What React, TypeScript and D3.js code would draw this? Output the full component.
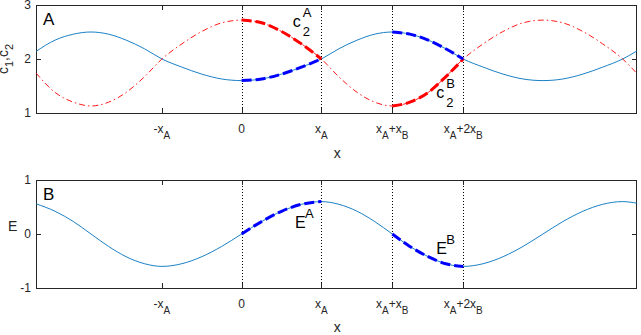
import React from "react";
import * as d3 from "d3";

// positions in units of x_A (x_A = 1, x_B = 0.89)
const xs = [
  -2.58, -2.34, -2.11, -1.89, -1.67, -1.45, -1.22, -1.0, -0.75, -0.5, -0.25, 0,
  0.25, 0.5, 0.75, 1.0, 1.22, 1.45, 1.67, 1.89, 2.11, 2.34, 2.56, 2.78, 3.03,
  3.28, 3.53, 3.78, 4.03, 4.28, 4.53, 4.78, 4.96,
];
const c1 = [
  2.14, 2.35, 2.46, 2.5, 2.46, 2.35, 2.19, 2.0, 1.85, 1.72, 1.63, 1.6, 1.63,
  1.72, 1.85, 2.0, 2.19, 2.35, 2.46, 2.5, 2.46, 2.35, 2.19, 2.0, 1.85, 1.72,
  1.63, 1.6, 1.63, 1.72, 1.85, 2.0, 2.15,
];
const c2 = [
  1.74, 1.38, 1.2, 1.13, 1.2, 1.38, 1.67, 2.0, 2.28, 2.51, 2.67, 2.72, 2.67,
  2.51, 2.28, 2.0, 1.67, 1.38, 1.2, 1.13, 1.2, 1.38, 1.67, 2.0, 2.28, 2.51,
  2.67, 2.72, 2.67, 2.51, 2.28, 2.0, 1.73,
];
const eVals = [
  0.56, 0.42, 0.23, 0.0, -0.23, -0.42, -0.55, -0.6, -0.55, -0.42, -0.23, 0.0,
  0.23, 0.42, 0.55, 0.6, 0.55, 0.42, 0.23, 0.0, -0.23, -0.42, -0.55, -0.6,
  -0.55, -0.42, -0.23, 0.0, 0.23, 0.42, 0.55, 0.6, 0.57,
];

type Part = { t: string; sub?: boolean };

const xTickVals = [-1, 0, 1, 1.89, 2.78];
const xTickLabels: Part[][] = [
  [{ t: "-x" }, { t: "A", sub: true }],
  [{ t: "0" }],
  [{ t: "x" }, { t: "A", sub: true }],
  [{ t: "x" }, { t: "A", sub: true }, { t: "+x" }, { t: "B", sub: true }],
  [{ t: "x" }, { t: "A", sub: true }, { t: "+2x" }, { t: "B", sub: true }],
];
const dottedAt = [0, 1, 1.89, 2.78];
const highlightRanges = [
  [0, 1],
  [1.89, 2.78],
];
const yTicksA = [1, 2, 3];
const yTicksB = [-1, 0, 1];

const W = 641;
const H = 335;
const AX = "#262626";
const FONT = "'Liberation Sans', Arial, Helvetica, sans-serif";
const BLUE_THIN = "#0072BD";

const x = d3.scaleLinear().domain([-2.58, 4.96]).range([36, 637]);
const yA = d3.scaleLinear().domain([1, 3]).range([113, 5]);
const yB = d3.scaleLinear().domain([-1, 1]).range([288, 180]);

function Rich({ x, y, parts, size, subSize, shift, anchor, fill, transform }: any) {
  let down = false;
  return (
    <text x={x} y={y} textAnchor={anchor} fontSize={size} fill={fill} transform={transform}>
      {parts.map((p: Part, i: number) => {
        let dy = 0;
        if (p.sub && !down) {
          dy = shift;
          down = true;
        } else if (!p.sub && down) {
          dy = -shift;
          down = false;
        }
        return (
          <tspan key={i} dy={dy} fontSize={p.sub ? subSize : size}>
            {p.t}
          </tspan>
        );
      })}
    </text>
  );
}

function linePath(ys: number[], yScale: any, range?: number[]) {
  const pts = xs
    .map((v, i) => [v, ys[i]] as [number, number])
    .filter((p) => !range || (p[0] >= range[0] - 1e-9 && p[0] <= range[1] + 1e-9));
  return d3
    .line<[number, number]>()
    .x((d) => x(d[0]))
    .y((d) => yScale(d[1]))
    .curve(d3.curveMonotoneX)(pts) as string;
}

function Frame({ yScale, yTicks }: any) {
  const [r0, r1] = yScale.range();
  const top = r1;
  const bottom = r0;
  const left = x.range()[0];
  const right = x.range()[1];
  return (
    <g>
      {dottedAt.map((v) => (
        <line
          key={"d" + v}
          x1={Math.round(x(v)) + 0.5}
          x2={Math.round(x(v)) + 0.5}
          y1={top}
          y2={bottom}
          stroke="#000"
          strokeWidth={1}
          strokeDasharray="1,2"
        />
      ))}
      {xTickVals.map((v, i) => (
        <g key={"xt" + i}>
          <line x1={Math.round(x(v)) + 0.5} x2={Math.round(x(v)) + 0.5} y1={bottom} y2={bottom - 5} stroke={AX} />
          <line x1={Math.round(x(v)) + 0.5} x2={Math.round(x(v)) + 0.5} y1={top} y2={top + 5} stroke={AX} />
          <Rich
            x={x(v)}
            y={bottom + 20}
            parts={xTickLabels[i]}
            size={12}
            subSize={10}
            shift={6}
            anchor="middle"
            fill={AX}
          />
        </g>
      ))}
      {yTicks.map((v: number) => (
        <g key={"yt" + v}>
          <line x1={left} x2={left + 5} y1={Math.round(yScale(v)) + 0.5} y2={Math.round(yScale(v)) + 0.5} stroke={AX} />
          <line x1={right} x2={right - 5} y1={Math.round(yScale(v)) + 0.5} y2={Math.round(yScale(v)) + 0.5} stroke={AX} />
          <text x={31} y={yScale(v) + 4} textAnchor="end" fontSize={12} fill={AX}>
            {v}
          </text>
        </g>
      ))}
      <rect
        x={left + 0.5}
        y={top + 0.5}
        width={right - left - 1}
        height={bottom - top}
        fill="none"
        stroke={AX}
        strokeWidth={1}
      />
    </g>
  );
}

function Script({ px, py, main, sup, sub }: any) {
  return (
    <g fill="#000">
      <text x={px} y={py} fontSize={16}>
        {main}
      </text>
      {sup && (
        <text x={px + 10} y={py - 10} fontSize={13}>
          {sup}
        </text>
      )}
      {sub && (
        <text x={px + 10} y={py + 9} fontSize={13}>
          {sub}
        </text>
      )}
    </g>
  );
}

export default function App() {
  return (
    <svg
      width={W}
      height={H}
      style={{ position: "absolute", left: 0, top: 0, background: "#fff" }}
      fontFamily={FONT}
    >
      {/* panel A */}
      <Frame yScale={yA} yTicks={yTicksA} />
      <path d={linePath(c1, yA)} fill="none" stroke={BLUE_THIN} strokeWidth={0.9} />
      <path d={linePath(c2, yA)} fill="none" stroke="#ff0000" strokeWidth={0.9} strokeDasharray="6,3,1.5,3" />
      {highlightRanges.map((r, i) => (
        <g key={"ha" + i}>
          <path d={linePath(c2, yA, r)} fill="none" stroke="#ff0000" strokeWidth={3} strokeDasharray="10,4" />
          <path d={linePath(c1, yA, r)} fill="none" stroke="#0000ff" strokeWidth={3} strokeDasharray="10,4" />
        </g>
      ))}
      <text x={43} y={25} fontSize={17} fill="#000">
        A
      </text>
      <Script px={x(0.64)} py={27} main="c" sup="A" sub="2" />
      <Script px={x(2.44)} py={98} main="c" sup="B" sub="2" />
      <Rich
        x={8}
        y={59}
        parts={[{ t: "c" }, { t: "1", sub: true }, { t: ",c" }, { t: "2", sub: true }]}
        size={14}
        subSize={11}
        shift={5}
        anchor="middle"
        fill={AX}
        transform="rotate(-90 8 59)"
      />
      <text x={x(1.2)} y={158} textAnchor="middle" fontSize={14} fill={AX}>
        x
      </text>

      {/* panel B */}
      <Frame yScale={yB} yTicks={yTicksB} />
      <path d={linePath(eVals, yB)} fill="none" stroke={BLUE_THIN} strokeWidth={0.9} />
      {highlightRanges.map((r, i) => (
        <path key={"hb" + i} d={linePath(eVals, yB, r)} fill="none" stroke="#0000ff" strokeWidth={3} strokeDasharray="10,4" />
      ))}
      <text x={43} y={200} fontSize={17} fill="#000">
        B
      </text>
      <Script px={x(0.67)} py={228} main="E" sup="A" />
      <Script px={x(2.44)} py={254} main="E" sup="B" />
      <text x={8} y={231} fontSize={14} fill={AX}>
        E
      </text>
      <text x={x(1.2)} y={332} textAnchor="middle" fontSize={14} fill={AX}>
        x
      </text>
    </svg>
  );
}
